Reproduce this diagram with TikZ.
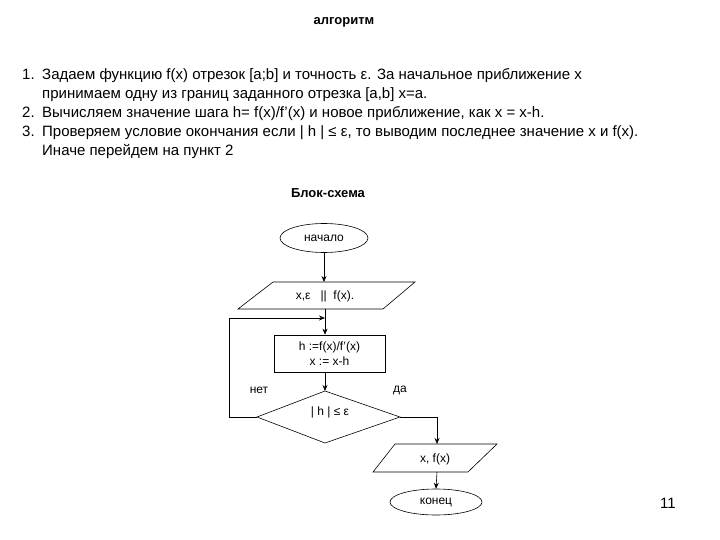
\documentclass[tikz,border=0pt]{standalone}
\usepackage{fontspec}
\setmainfont{Liberation Sans}
\usetikzlibrary{arrows.meta,shapes.geometric}
\begin{document}
\begin{tikzpicture}[x=1pt,y=-1pt,
  txt/.style={font=\fontsize{15}{17}\selectfont,inner sep=0pt},
  small/.style={font=\fontsize{12}{15}\selectfont,inner sep=0pt,align=center},
  line/.style={draw=black,line width=0.6pt},
  arr/.style={line,-{Stealth[length=6pt,width=5pt]}},
  term/.style={ellipse,draw,line width=0.6pt,minimum width=88pt,minimum height=29pt,small,inner sep=0pt}]
\useasboundingbox (0,0) rectangle (720,540);
\node[txt,font=\bfseries\fontsize{13}{15}\selectfont] (t1) at (344,22) {алгоритм};
\node[txt,anchor=base west] (n1) at (22,80) {1.};
\node[txt,anchor=base west] (l1) at (42,80) {Задаем функцию f(x) отрезок [a;b] и точность ε. За начальное приближение x};
\node[txt,anchor=base west] (l1b) at (42,99) {принимаем одну из границ заданного отрезка [a,b] x=a.};
\node[txt,anchor=base west] (n2) at (22,118) {2.};
\node[txt,anchor=base west] (l2) at (42,118) {Вычисляем значение шага h= f(x)/f'(x) и новое приближение, как x = x-h.};
\node[txt,anchor=base west] (n3) at (22,137) {3.};
\node[txt,anchor=base west] (l3) at (42,137) {Проверяем условие окончания если | h | ≤ ε, то выводим последнее значение x и f(x).};
\node[txt,anchor=base west] (l3b) at (42,156) {Иначе перейдем на пункт 2};
\node[txt,font=\bfseries\fontsize{13}{15}\selectfont] (t2) at (328,193) {Блок-схема};
% start
\node[term] (start) at (324,238) {начало};
% input parallelogram
\coordinate (p1a) at (273,282); \coordinate (p1b) at (415,282);
\coordinate (p1c) at (383,309); \coordinate (p1d) at (238,309);
\draw[line] (p1a)--(p1b)--(p1c)--(p1d)--cycle;
\node[small] (in) at (325,296) {x,ε \ \ || \ f(x).};
\coordinate (p1top) at (324,282);
\draw[arr] (start.south) -- (p1top);
% process
\node[draw,line width=0.6pt,minimum width=111pt,minimum height=37pt,small] (proc) at (329.5,353.5) {h :=f(x)/f'(x)\\x := x-h};
\coordinate (p1bot) at (325,309);
\coordinate (join) at (325,318);
\draw[arr] (p1bot) -- (proc.north -| p1bot);
% decision
\coordinate (dt) at (325,391); \coordinate (dl) at (257,417);
\coordinate (dr) at (400,417); \coordinate (db) at (325,443);
\draw[line] (dt)--(dr)--(db)--(dl)--cycle;
\node[small] (cond) at (330,412) {| h | ≤ ε};
\draw[arr] (proc.south -| dt) -- (dt);
\node[small] (no) at (259,390) {нет};
\node[small] (yes) at (400,390) {да};
\coordinate (lc1) at (229,417); \coordinate (lc2) at (229,318);
\draw[arr] (dl) -- (lc1) -- (lc2) -- (join);
% output
\coordinate (p2a) at (395,444); \coordinate (p2b) at (497,444);
\coordinate (p2c) at (468,472); \coordinate (p2d) at (373,472);
\draw[line] (p2a)--(p2b)--(p2c)--(p2d)--cycle;
\node[small] (out) at (435,459) {x, f(x)};
\coordinate (rc) at (437,417); \coordinate (p2top) at (437,444);
\draw[arr] (dr) -- (rc) -- (p2top);
\node[term,minimum width=92pt,minimum height=26pt] (end) at (436,502) {конец};
\coordinate (p2bot) at (437,472);
\draw[arr] (p2bot) -- (end.north);
\node[txt] (pg) at (668,503) {11};
\end{tikzpicture}
\end{document}
